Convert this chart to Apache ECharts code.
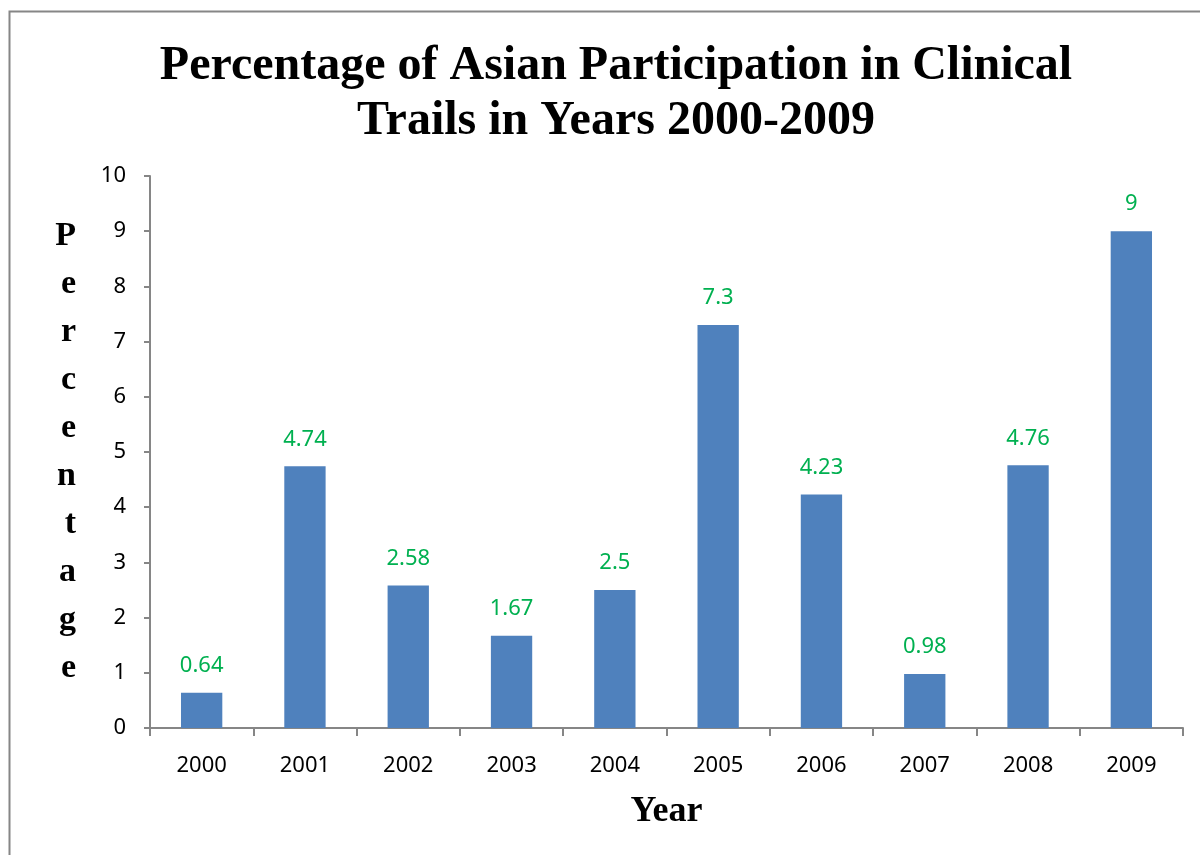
<!DOCTYPE html>
<html>
<head>
<meta charset="utf-8">
<script src="https://cdn.jsdelivr.net/npm/echarts@6/dist/echarts.min.js"></script>
<style>
	html,body{margin:0;padding:0;background:#fff;}
	#chart{width:1200px;height:855px;}
</style>
</head>
<body>
<div id="chart"></div>
<script>
	// data
	const years=["2000","2001","2002","2003","2004","2005","2006","2007","2008","2009"];
	const percentages=[0.64,4.74,2.58,1.67,2.5,7.3,4.23,0.98,4.76,9];
	const yTicks=[0,1,2,3,4,5,6,7,8,9,10];

	const chart=echarts.init(document.getElementById("chart"));
	const option={
		animation:false,
		backgroundColor:"#fff",
		title:{
			left:611,
			top:34,
			textAlign:"center",
			text:"Percentage of Asian Participation in Clinical\nTrails in Years 2000-2009",
			textStyle:{
				fontFamily:"Liberation Serif",
				fontWeight:"bold",
				fontSize:48,
				lineHeight:55,
				color:"#000"
			}
		},
		graphic:[
			{
				type:"rect",
				shape:{x:9.5,y:11.5,width:1200,height:900},
				style:{fill:"none",stroke:"#868686",lineWidth:2},
				silent:true
			}
		],
		grid:{left:150,right:17,top:176,bottom:127},
		xAxis:{
			type:"category",
			data:years,
			name:"Year",
			nameLocation:"middle",
			nameGap:66,
			nameTextStyle:{
				fontFamily:"Liberation Serif",
				fontWeight:"bold",
				fontSize:36,
				color:"#000"
			},
			axisLine:{lineStyle:{color:"#868686",width:2}},
			axisTick:{show:true,length:8,lineStyle:{color:"#868686",width:2}},
			axisLabel:{
				color:"#000",
				fontFamily:"Noto Sans",
				fontSize:22,
				margin:27
			}
		},
		yAxis:{
			type:"value",
			min:yTicks[0],
			max:yTicks[yTicks.length-1],
			interval:1,
			name:"Percentage".split("").join("\n"),
			nameLocation:"middle",
			nameRotate:0,
			nameGap:74,
			nameTextStyle:{
				fontFamily:"Liberation Serif",
				fontWeight:"bold",
				fontSize:34,
				lineHeight:48,
				color:"#000",
				padding:[8,0,0,0]
			},
			splitLine:{show:false},
			axisLine:{show:true,lineStyle:{color:"#868686",width:2}},
			axisTick:{show:true,length:6,lineStyle:{color:"#868686",width:2}},
			axisLabel:{
				color:"#000",
				fontFamily:"Noto Sans",
				fontSize:22,
				margin:24
			}
		},
		series:[
			{
				type:"bar",
				data:percentages,
				barWidth:"40%",
				itemStyle:{color:"#4F81BD"},
				label:{
					show:true,
					position:"top",
					distance:16,
					color:"#00B050",
					fontFamily:"Noto Sans",
					fontSize:22
				}
			}
		]
	};
	chart.setOption(option);
</script>
</body>
</html>
